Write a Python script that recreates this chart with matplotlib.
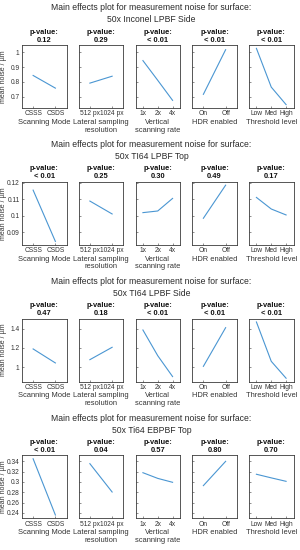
import numpy as np
import matplotlib.pyplot as plt
from matplotlib.ticker import MultipleLocator, FormatStrFormatter

plt.rcParams['font.family'] = ['Liberation Sans', 'DejaVu Sans']

# factors and levels (same for every surface)
factor_labels = ["Scanning Mode", "Lateral sampling\nresolution", "Vertical\nscanning rate",
                 "HDR enabled", "Threshold level"]
level_labels = [["CSSS", "CSDS"], ["512 px", "1024 px"], ["1x", "2x", "4x"],
                ["On", "Off"], ["Low", "Med", "High"]]

surfaces = ["50x Inconel LPBF Side", "50x TI64 LPBF Top", "50x TI64 LPBF Side", "50x Ti64 EBPBF Top"]

p_values = [["0.12", "0.29", "< 0.01", "< 0.01", "< 0.01"],
            ["< 0.01", "0.25", "0.30", "0.49", "0.17"],
            ["0.47", "0.18", "< 0.01", "< 0.01", "< 0.01"],
            ["< 0.01", "0.04", "0.57", "0.80", "0.70"]]

# mean noise per level
inconel_lpbf_side = [[0.843, 0.757], [0.791, 0.838], [0.944, 0.81, 0.674],
                     [0.715, 1.018], [1.027, 0.764, 0.645]]
ti64_lpbf_top = [[0.1156, 0.0846], [0.109, 0.1012], [0.102, 0.103, 0.1106],
                 [0.0986, 0.1186], [0.1112, 0.1042, 0.1006]]
ti64_lpbf_side = [[1.19, 1.045], [1.079, 1.207], [1.386, 1.12, 0.904],
                  [1.01, 1.41], [1.469, 1.062, 0.887]]
ti64_ebpbf_top = [[0.345, 0.236], [0.3355, 0.2806], [0.318, 0.307, 0.2994],
                  [0.293, 0.34], [0.315, 0.308, 0.3013]]

all_means = [inconel_lpbf_side, ti64_lpbf_top, ti64_lpbf_side, ti64_ebpbf_top]
ytick_step = [0.1, 0.01, 0.2, 0.02]

W, H = 300, 550
line_col = '#4a96d2'
edge_col = '#3a3a3a'
txt_col = '#2a2a2a'

fig = plt.figure(figsize=(3, 5.5), dpi=100)

for r, means in enumerate(all_means):
    top = 45 + r * 136.8
    hgt = 63
    flat = np.concatenate([np.asarray(m) for m in means])
    pad = 0.06 * (flat.max() - flat.min())
    ylo, yhi = flat.min() - pad, flat.max() + pad

    fig.text(0.505, 1 - (top - 37) / H, "Main effects plot for measurement noise for surface:",
             ha='center', va='center', fontsize=6.2, color=txt_col)
    fig.text(0.505, 1 - (top - 25) / H, surfaces[r],
             ha='center', va='center', fontsize=6.2, color=txt_col)

    for c in range(5):
        left = 22 + c * 56.75
        ax = fig.add_axes([left / W, 1 - (top + hgt) / H, 44.5 / W, hgt / H])
        y = means[c]
        x = np.arange(1, len(y) + 1)
        ax.plot(x, y, color=line_col, lw=0.8)
        ax.set_xlim(0.5, len(y) + 0.5)
        ax.set_ylim(ylo, yhi)
        ax.set_xticks(x)
        ax.set_xticklabels(level_labels[c])
        ax.yaxis.set_major_locator(MultipleLocator(ytick_step[r]))
        ax.yaxis.set_major_formatter(FormatStrFormatter('%g'))
        ax.tick_params(direction='in', length=1.5, width=0.4, labelsize=4.8,
                       pad=1.8, colors=edge_col, labelcolor='#333333')
        if c > 0:
            ax.tick_params(axis='y', labelleft=False)
        else:
            ax.set_ylabel("mean noise / µm", fontsize=5.0, color='#333333')
            ax.yaxis.set_label_coords(-0.34, 0.5)
        for s in ax.spines.values():
            s.set_color(edge_col)
            s.set_linewidth(0.6)
        ax.set_xlabel(factor_labels[c], fontsize=5.4, color='#333333', labelpad=1,
                      linespacing=1.15)
        ax.set_title("p-value:\n" + p_values[r][c], fontsize=5.4, fontweight='bold',
                     pad=2.5, linespacing=1.2, color='#111111')

fig.savefig("out.png", dpi=100, facecolor='white')
